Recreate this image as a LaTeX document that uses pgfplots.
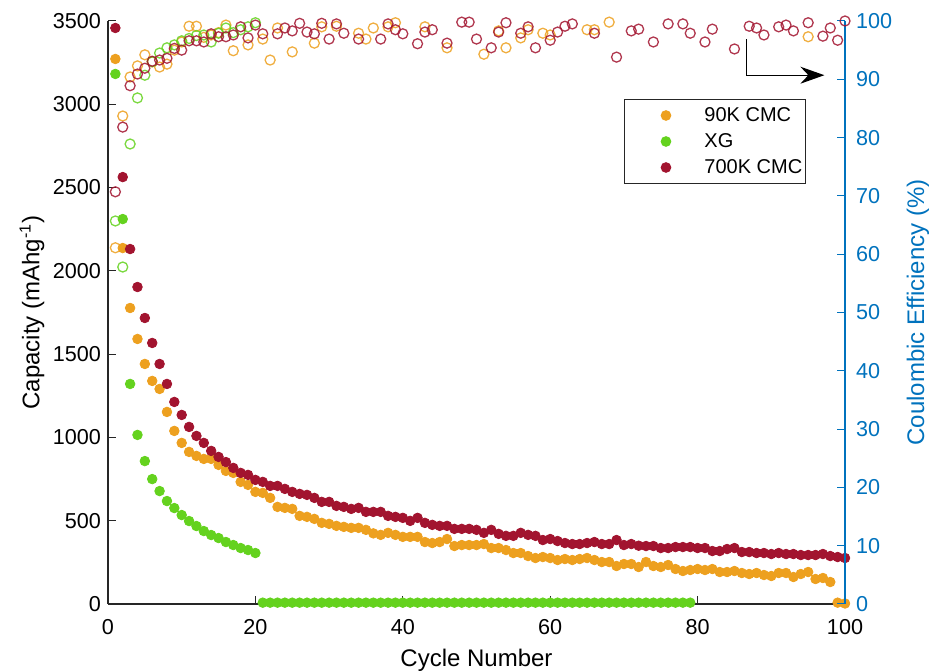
\documentclass[border=0pt]{standalone}
\usepackage{fontspec}
\setmainfont{Liberation Sans}
\usepackage{pgfplots}
\pgfplotsset{compat=1.18}
\usepackage{pgfplotstable}
\usetikzlibrary{arrows.meta}

\definecolor{cmcninety}{HTML}{EDA01F}
\definecolor{xgum}{HTML}{64D21E}
\definecolor{cmcseven}{HTML}{A2142F}
\definecolor{ceblue}{HTML}{0072BD}
\definecolor{axgray}{HTML}{262626}

% Discharge capacity (mAh/g) per cycle
\pgfplotstableread{
cyc cap
1 3272
2 2137
3 1777
4 1591
5 1441
6 1339
7 1291
8 1153
9 1039
10 967
11 913
12 889
13 871
14 871
15 835
16 799
17 787
18 733
19 715
20 673
21 667
22 637
23 583
24 577
25 571
26 529
27 523
28 511
29 487
30 481
31 469
32 463
33 457
34 457
35 445
36 424
37 415
38 427
39 415
40 403
41 403
42 403
43 372
44 366
45 372
46 390
47 348
48 354
49 354
50 354
51 360
52 336
53 336
54 324
55 306
56 306
57 288
58 276
59 282
60 276
61 264
62 270
63 264
64 270
65 276
66 264
67 252
68 252
69 228
70 240
71 240
72 222
73 252
74 228
75 222
76 234
77 210
78 198
79 204
80 210
81 204
82 210
83 192
84 192
85 198
86 186
87 180
88 186
89 174
90 168
91 186
92 186
93 162
94 180
95 192
96 150
97 156
98 132
99 8
100 3
}\capNinety

\pgfplotstableread{
cyc cap
1 3182
2 2311
3 1321
4 1015
5 858
6 750
7 678
8 618
9 576
10 534
11 498
12 468
13 438
14 414
15 396
16 372
17 354
18 336
19 324
20 306
21 8
22 8
23 8
24 8
25 8
26 8
27 8
28 8
29 8
30 8
31 8
32 8
33 8
34 8
35 8
36 8
37 8
38 8
39 8
40 8
41 8
42 8
43 8
44 8
45 8
46 8
47 8
48 8
49 8
50 8
51 8
52 8
53 8
54 8
55 8
56 8
57 8
58 8
59 8
60 8
61 8
62 8
63 8
64 8
65 8
66 8
67 8
68 8
69 8
70 8
71 8
72 8
73 8
74 8
75 8
76 8
77 8
78 8
79 8
}\capXG

\pgfplotstableread{
cyc cap
1 3458
2 2563
3 2131
4 1903
5 1717
6 1567
7 1441
8 1321
9 1213
10 1135
11 1063
12 1009
13 967
14 919
15 883
16 852
17 817
18 787
19 775
20 745
21 733
22 709
23 709
24 691
25 673
26 661
27 655
28 637
29 613
30 613
31 589
32 583
33 571
34 577
35 553
36 553
37 553
38 529
39 523
40 517
41 499
42 517
43 487
44 475
45 469
46 469
47 451
48 451
49 451
50 445
51 427
52 445
53 421
54 409
55 409
56 427
57 415
58 409
59 384
60 390
61 378
62 366
63 360
64 360
65 366
66 372
67 360
68 360
69 384
70 354
71 360
72 350
73 348
74 348
75 336
76 336
77 342
78 342
79 342
80 336
81 336
82 318
83 318
84 330
85 336
86 312
87 312
88 306
89 306
90 300
91 306
92 300
93 300
94 294
95 294
96 294
97 300
98 288
99 282
100 276
}\capSeven

% Coulombic efficiency (%) per cycle
\pgfplotstableread{
cyc ce
1 61.1
2 83.7
3 90.4
4 92.3
5 94.2
6 93.0
7 92.1
8 92.6
9 95.0
10 96.4
11 99.1
12 99.1
13 97.2
14 97.6
15 98.0
16 99.3
17 94.9
19 95.9
21 96.9
22 93.3
23 98.8
25 94.7
28 96.2
29 99.0
31 99.1
34 97.9
35 96.9
36 98.8
38 99.0
39 99.7
43 99.0
46 95.4
51 94.3
53 98.3
54 95.4
56 97.1
57 98.5
59 97.9
60 97.6
65 98.5
66 98.5
68 99.8
95 97.3
}\ceNinety

\pgfplotstableread{
cyc ce
1 65.7
2 57.8
3 78.9
4 86.8
5 90.7
6 93.0
7 94.5
8 95.4
9 95.9
10 96.6
11 97.0
12 97.5
13 97.6
14 96.4
15 97.9
16 98.8
17 98.0
18 98.5
19 99.0
20 99.7
}\ceXG

\pgfplotstableread{
cyc ce
1 70.7
2 81.8
3 88.9
4 90.9
5 91.9
6 93.1
7 93.3
8 93.6
9 95.3
10 95.0
11 96.6
12 96.6
13 96.4
14 97.8
15 97.3
16 97.3
17 97.6
18 99.0
19 97.1
20 99.3
21 97.8
23 97.8
24 98.8
25 98.3
26 99.6
27 98.1
28 97.8
29 99.6
30 96.9
31 99.5
32 97.9
34 96.9
37 96.9
38 99.5
39 98.5
40 97.8
42 96.1
43 98.1
44 98.5
46 96.2
48 99.8
49 99.8
50 96.9
52 95.4
53 98.1
54 99.7
56 97.9
57 99.0
58 95.4
60 96.7
61 98.1
62 99.1
63 99.5
66 97.9
69 93.8
71 98.3
72 98.6
74 96.4
76 99.5
78 99.5
79 97.9
81 96.4
82 98.6
85 95.2
87 99.1
88 98.8
89 97.6
91 99.0
92 99.3
93 98.3
95 99.7
97 97.4
98 98.8
99 96.7
100 100
}\ceSeven

\pgfplotsset{
  common/.style={
    width=368.5pt, height=291.5pt, scale only axis,
    xmin=0, xmax=100,
    tick align=inside,
    major tick length=4pt,
    /pgf/number format/assume math mode=true,
    /pgf/number format/1000 sep={},
    ticklabel style={font=\fontsize{10.8}{13}\selectfont},
    label style={font=\fontsize{12}{14}\selectfont},
  },
  dis/.style={only marks, mark=*, mark size=2.4pt, draw=none,
    legend image code/.code={%
      \node[draw=none, fill=none, inner sep=0pt, minimum width=38.5pt, minimum height=1pt, anchor=west] at (0pt,0pt) {};
      \draw[##1] plot coordinates {(21pt,0pt)};}},
  eff/.style={only marks, mark=o, mark size=2.5pt, mark options={line width=0.65pt, draw opacity=0.85}},
}

\begin{document}
\begin{tikzpicture}
\useasboundingbox (-54pt,-34pt) rectangle (411pt,302pt);

% capacity axis
\begin{axis}[common,
  axis x line*=bottom, axis y line*=left,
  axis line style={axgray, line width=0.6pt},
  tick style={axgray, line width=0.5pt},
  ymin=0, ymax=3500,
  xtick={0,20,...,100}, ytick={0,500,...,3500},
  xticklabel style={yshift=-4pt},
  xlabel={Cycle Number},
  ylabel={Capacity (mAhg\textsuperscript{-1})},
  xlabel style={at={(axis description cs:0.5,0)}, anchor=center, yshift=-28pt},
  ylabel style={at={(axis description cs:-0.1031,0.5)}, anchor=center},
  legend style={at={(axis description cs:0.7001,0.8662)}, anchor=north west,
    draw=axgray, line width=0.5pt, fill=white,
    inner xsep=0pt, inner ysep=1.5pt, row sep=0pt,
    font=\fontsize{10}{12}\selectfont,
    nodes={inner sep=1.5pt, text height=8pt, text depth=2pt, anchor=west}},
  legend cell align=left,
]
\addplot[dis, cmcninety, fill=cmcninety] table[x=cyc, y=cap] {\capNinety};
\addlegendentry{90K CMC}
\addplot[dis, xgum, fill=xgum] table[x=cyc, y=cap] {\capXG};
\addlegendentry{XG}
\addplot[dis, cmcseven, fill=cmcseven] table[x=cyc, y=cap] {\capSeven};
\addlegendentry{700K CMC}
\end{axis}

% efficiency axis
\begin{axis}[common,
  axis x line=none, axis y line*=right,
  clip=false,
  y axis line style={ceblue, line width=0.6pt},
  ytick style={ceblue, line width=0.5pt},
  yticklabel style={ceblue, xshift=2pt},
  ymin=0, ymax=100, ytick={0,10,...,100},
  ylabel={Coulombic Efficiency (\%)},
  ylabel style={ceblue, at={(axis description cs:1.099,0.5)}, anchor=center},
]
\addplot[eff, cmcninety] table[x=cyc, y=ce] {\ceNinety};
\addplot[eff, xgum] table[x=cyc, y=ce] {\ceXG};
\addplot[eff, cmcseven] table[x=cyc, y=ce] {\ceSeven};
\draw[black, line width=0.6pt, -{Stealth[length=12pt, width=8.5pt, inset=4pt]}]
  (axis cs:86.6,96.9) |- (axis cs:97.2,90.7);
\end{axis}
\end{tikzpicture}
\end{document}
